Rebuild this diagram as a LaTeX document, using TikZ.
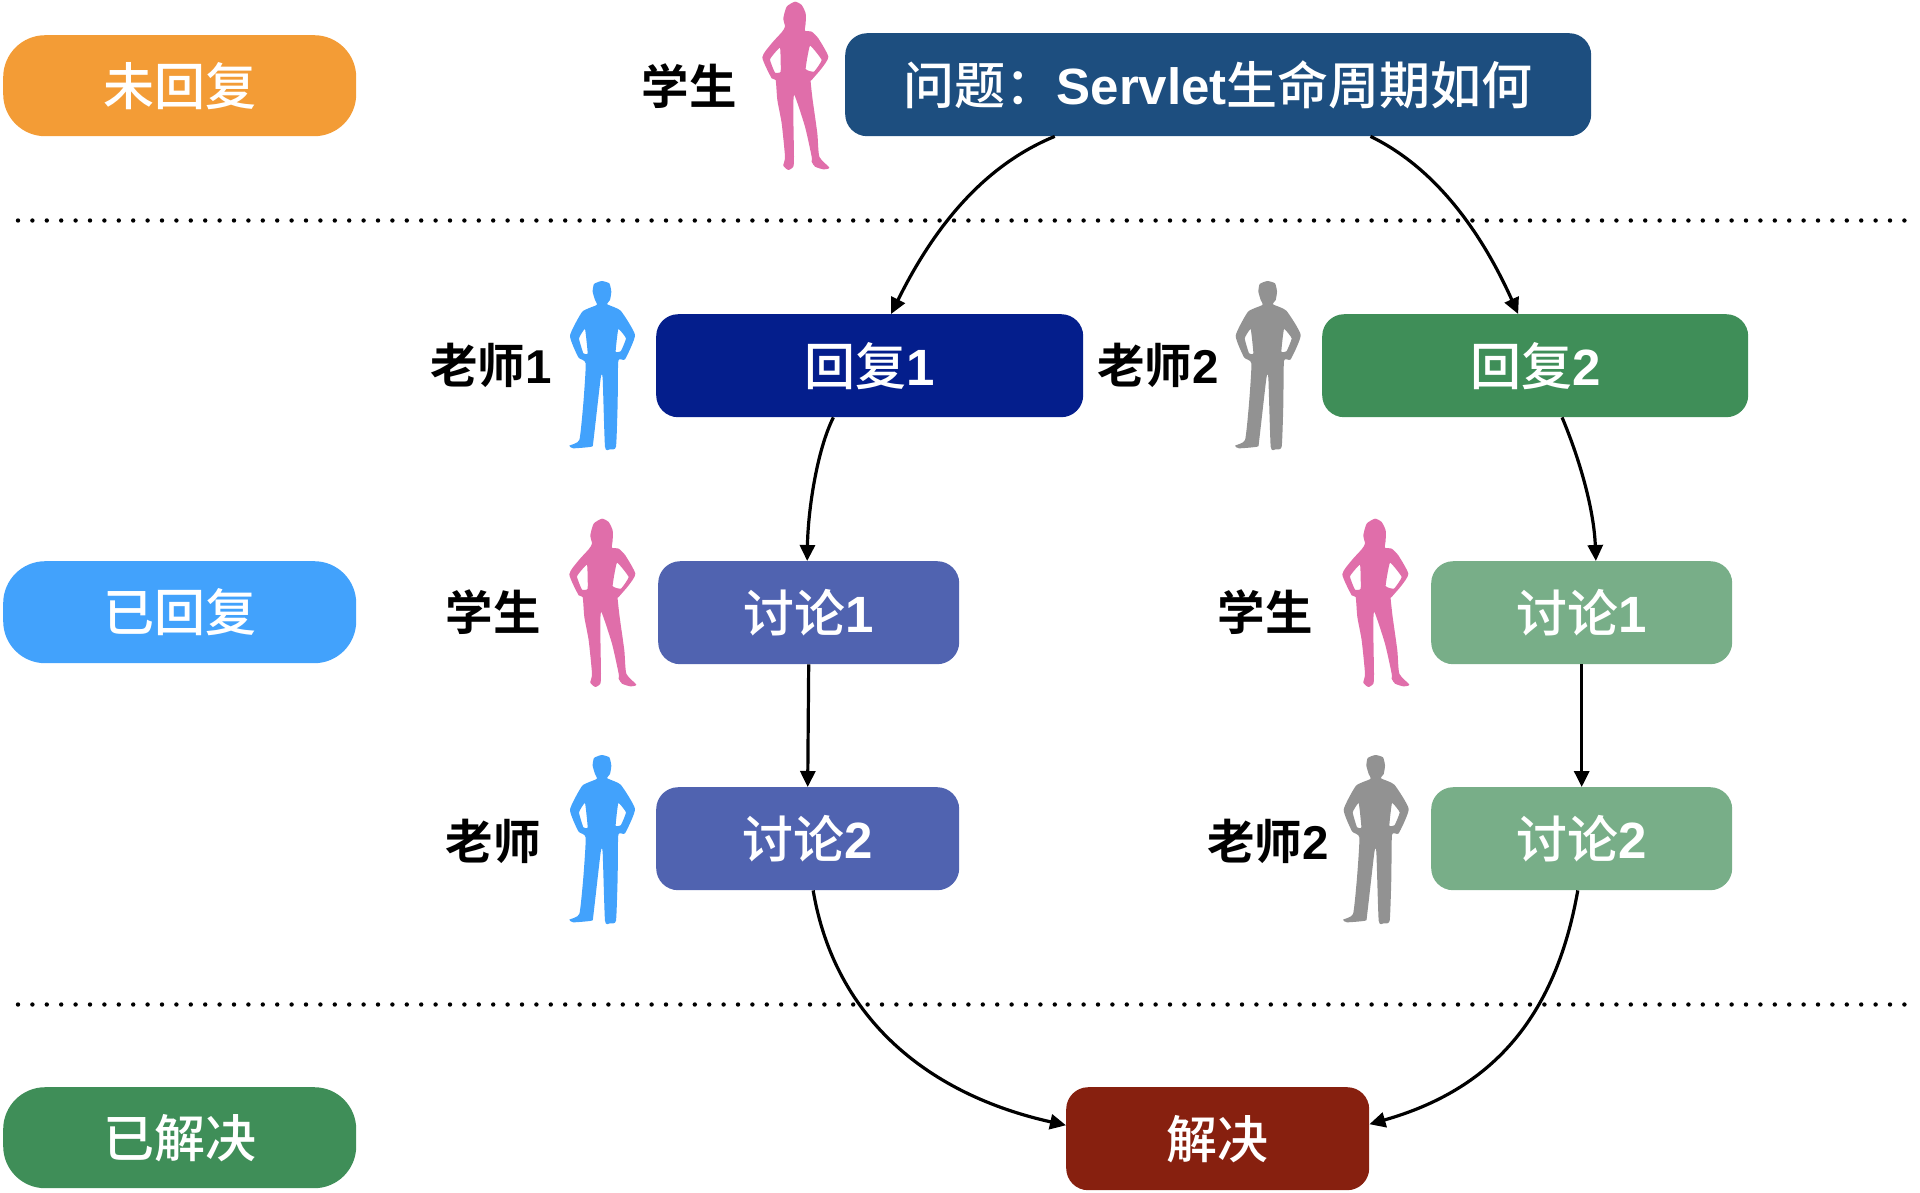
\documentclass[tikz,border=0pt]{standalone}
\usepackage{fontspec}
\usetikzlibrary{arrows.meta,calc}
\setmainfont{Noto Sans CJK SC Medium}[BoldFont={Noto Sans CJK SC Bold}]
\newfontfamily\latf{Liberation Sans}
\definecolor{cOrange}{HTML}{F39C36}
\definecolor{cBlue}{HTML}{42A2FC}
\definecolor{cGreen}{HTML}{3F8E58}
\definecolor{cNavy}{HTML}{1D4E7F}
\definecolor{cDeep}{HTML}{041E8C}
\definecolor{cIndigo}{HTML}{5063B0}
\definecolor{cSage}{HTML}{78AE88}
\definecolor{cRed}{HTML}{87200F}
\definecolor{cPink}{HTML}{E06EAA}
\definecolor{cGrey}{HTML}{929292}
\tikzset{
  x=1pt,y=-1pt,
  box/.style={rounded corners=22pt,text=white,inner sep=0pt,anchor=north west,font=\fontsize{51}{51}\selectfont},
  pill/.style={box,rounded corners=42pt},
  who/.style={inner sep=0pt,text=black,font=\fontsize{47.5}{47.5}\selectfont\bfseries},
  conn/.style={-{Triangle[length=16pt,width=15pt]},line width=3.2pt,black},
  sep/.style={line width=4.4pt,line cap=round,dash pattern=on 0pt off 14.4pt,black},
  woman/.pic={
    \fill[cPink,even odd rule,x=0.3333pt,y=-0.3333pt]
      plot[smooth cycle,tension=0.35] coordinates {(165,5)(185,15)(197,40)(197,70)(195,92)(215,95)(235,115)(265,170)(245,205)(215,240)(212,245)(218,300)(232,400)(238,470)(268,503)(250,508)(225,500)(215,485)(215,470)(195,380)(163,285)(160,340)(162,470)(160,500)(145,510)(130,497)(135,470)(125,370)(112,300)(107,240)(95,235)(67,172)(95,130)(125,97)(135,80)(130,55)(140,20)}
      plot[smooth cycle,tension=0.2] coordinates {(120,143)(90,178)(105,218)(122,215)}
      plot[smooth cycle,tension=0.2] coordinates {(210,137)(245,180)(222,215)(197,207)};
  },
  man/.pic={
    \fill[pic actions,even odd rule,x=0.3333pt,y=-0.3333pt]
      plot[smooth cycle,tension=0.3] coordinates {(155,33)(178,40)(184,65)(180,90)(172,103)(212,122)(255,195)(225,268)(205,272)(203,400)(198,530)(180,538)(165,530)(158,325)(152,325)(130,515)(125,530)(70,535)(58,527)(88,510)(100,400)(107,280)(85,262)(60,197)(97,125)(140,105)(135,90)(128,65)(132,42)}
      plot[smooth cycle,tension=0.2] coordinates {(105,177)(87,205)(100,250)(113,250)}
      plot[smooth cycle,tension=0.2] coordinates {(205,177)(228,205)(213,243)(197,245)};
  }
}
\newcommand{\boxat}[8]{% style,name,fill,x0,y0,x1,y1,text
  \path (#4,#5) coordinate (#2nw) (#6,#7) coordinate (#2se);
  \node[#1,fill=#3,minimum width=#6pt-#4pt,minimum height=#7pt-#5pt] (#2) at (#2nw) {#8};
}
\begin{document}
\begin{tikzpicture}
\useasboundingbox (0,0) rectangle (1920,1192);
\boxat{pill}{s1}{cOrange}{3}{35}{356}{136}{未回复}
\boxat{pill}{s2}{cBlue}{3}{561}{356}{663}{已回复}
\boxat{pill}{s3}{cGreen}{3}{1087}{356}{1188}{已解决}
\boxat{box}{q}{cNavy}{845}{33}{1591}{136}{问题：{\latf\bfseries Servlet}生命周期如何}
\boxat{box}{ra}{cDeep}{656}{314}{1083}{417}{回复{\latf\bfseries 1}}
\boxat{box}{rb}{cGreen}{1322}{314}{1748}{417}{回复{\latf\bfseries 2}}
\boxat{box}{da}{cIndigo}{658}{561}{959}{664}{讨论{\latf\bfseries 1}}
\boxat{box}{db}{cIndigo}{656}{787}{959}{890}{讨论{\latf\bfseries 2}}
\boxat{box}{dc}{cSage}{1431}{561}{1732}{664}{讨论{\latf\bfseries 1}}
\boxat{box}{dd}{cSage}{1431}{787}{1732}{890}{讨论{\latf\bfseries 2}}
\boxat{box}{z}{cRed}{1066}{1087}{1369}{1190}{解决}

\node[who] (l1) at (689,86) {学生};
\node[who] (l2) at (491,365) {老师{\latf\bfseries 1}};
\node[who] (l3) at (1158,365) {老师{\latf\bfseries 2}};
\node[who] (l4) at (493,612) {学生};
\node[who] (l5) at (1265,612) {学生};
\node[who] (l6) at (493,841) {老师};
\node[who] (l7) at (1268,841) {老师{\latf\bfseries 2}};

\pic at (740,0) {woman};
\pic at (547,517) {woman};
\pic at (1320,517) {woman};
\pic[cBlue] at (550,270) {man};
\pic[cBlue] at (550,744) {man};
\pic[cGrey] at (1215.7,270) {man};
\pic[cGrey] at (1323.7,744) {man};

\coordinate (d1a) at (18,220.5); \coordinate (d1b) at (1914,220.5);
\coordinate (d2a) at (18,1004.5); \coordinate (d2b) at (1914,1004.5);
\draw[sep] (d1a) -- (d1b);
\draw[sep] (d2a) -- (d2b);

\draw[conn] ($(q.south west)!0.281!(q.south east)$) .. controls (985,165) and (935,225) .. ($(ra.north west)!0.55!(ra.north east)$);
\draw[conn] ($(q.south west)!0.704!(q.south east)$) .. controls (1440,170) and (1485,240) .. ($(rb.north west)!0.46!(rb.north east)$);
\draw[conn] ($(ra.south west)!0.415!(ra.south east)$) .. controls (817,450) and (808,510) .. ($(da.north west)!0.495!(da.north east)$);
\draw[conn] ($(rb.south west)!0.563!(rb.south east)$) .. controls (1580,460) and (1594,510) .. ($(dc.north west)!0.547!(dc.north east)$);
\draw[conn] (da.south) -- (db.north);
\draw[conn] (dc.south) -- (dd.north);
\draw[conn] ($(db.south west)!0.518!(db.south east)$) .. controls (835,1020) and (930,1095) .. ($(z.north west)!0.37!(z.south west)$);
\draw[conn] ($(dd.south west)!0.487!(dd.south east)$) .. controls (1555,1020) and (1490,1090) .. ($(z.north east)!0.36!(z.south east)$);
\end{tikzpicture}
\end{document}
